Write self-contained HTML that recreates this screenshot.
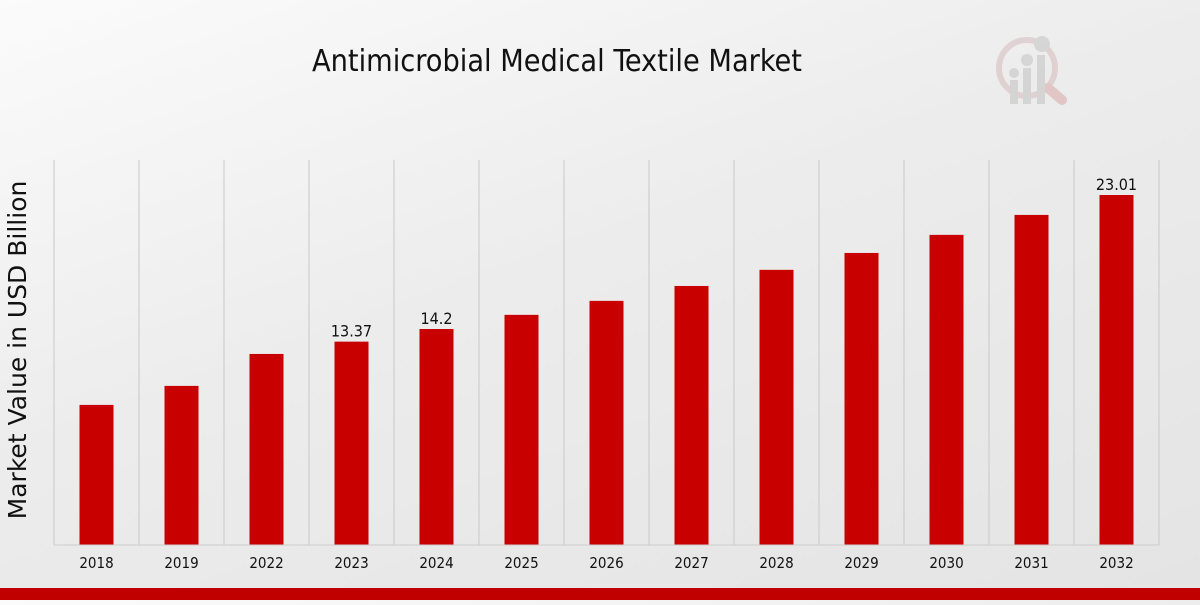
<!DOCTYPE html>
<html><head><meta charset="utf-8"><style>
html,body{margin:0;padding:0;}
body{width:1200px;height:600px;overflow:hidden;background:linear-gradient(160deg,#fbfbfb 0%,#ececec 45%,#e4e4e4 100%);font-family:"Liberation Sans",sans-serif;}
</style></head><body>
<svg id="chart" width="1200" height="600" xmlns="http://www.w3.org/2000/svg">
<text x="557" y="71" text-anchor="middle" font-size="30" textLength="490" lengthAdjust="spacingAndGlyphs" font-family="DejaVu Sans Condensed, DejaVu Sans, sans-serif" fill="#111">Antimicrobial Medical Textile Market</text>
<text transform="translate(26,350) rotate(-90)" text-anchor="middle" font-size="25" font-family="DejaVu Sans, sans-serif" fill="#111">Market Value in USD Billion</text>
<g opacity="0.35">
<circle cx="1027" cy="68" r="28" fill="none" stroke="#c9a0a0" stroke-width="6"/>
<line x1="1048" y1="88" x2="1062" y2="100" stroke="#d08080" stroke-width="10" stroke-linecap="round"/>
<rect x="1010" y="80" width="8" height="24" fill="#aaa"/><rect x="1023" y="68" width="8" height="36" fill="#aaa"/><rect x="1037" y="55" width="8" height="49" fill="#aaa"/>
<circle cx="1014" cy="73" r="5" fill="#aaa"/><circle cx="1027" cy="60" r="6" fill="#aaa"/><circle cx="1042" cy="44" r="8" fill="#aaa"/>
</g>
<g id="grid"></g><g id="bars"></g><g id="labels"></g>
<line x1="54" y1="545" x2="1159" y2="545" stroke="#ccc" stroke-width="1"/>
<rect x="0" y="588" width="1200" height="12" fill="#c00000"/>
</svg>
<script>
const categories=["2018","2019","2022","2023","2024","2025","2026","2027","2028","2029","2030","2031","2032"];
const values=[9.21,10.46,12.56,13.37,14.2,15.13,16.05,17.03,18.09,19.2,20.39,21.7,23.01];
const shownLabels=["","","","13.37","14.2","","","","","","","","23.01"];
const NS="http://www.w3.org/2000/svg";
const x0=54,x1=1159,base=545,pxPer=350/23.01;
const band=(x1-x0)/categories.length;
const xc=i=>x0+band*(i+0.5);
const y=v=>base-v*pxPer;
const FF="DejaVu Sans Condensed, DejaVu Sans, sans-serif";
const grid=document.getElementById('grid'),bars=document.getElementById('bars'),labels=document.getElementById('labels');
for(let i=0;i<=categories.length;i++){
 const l=document.createElementNS(NS,'line');
 
 
 const gx=x0+band*i;
 l.setAttribute('x1',gx);l.setAttribute('x2',gx);l.setAttribute('y1',160);l.setAttribute('y2',545);
 l.setAttribute('stroke','#c8c8c8');l.setAttribute('stroke-width','1');
 grid.appendChild(l);
}
categories.forEach((c,i)=>{
 const r=document.createElementNS(NS,'rect');
 
 
 r.setAttribute('x',xc(i)-17);r.setAttribute('width',34);
 r.setAttribute('y',y(values[i]));r.setAttribute('height',base-y(values[i]));
 r.setAttribute('fill','#c80000');
 bars.appendChild(r);
 const t=document.createElementNS(NS,'text');
 
 
 t.setAttribute('x',xc(i));t.setAttribute('y',568);t.setAttribute('text-anchor','middle');
 t.setAttribute('font-size','15');t.setAttribute('fill','#111');t.setAttribute('font-family',FF);
 t.textContent=c;labels.appendChild(t);
 if(shownLabels[i]){
  const v=document.createElementNS(NS,'text');
  
  
  v.setAttribute('x',xc(i));v.setAttribute('y',y(values[i])-5);v.setAttribute('text-anchor','middle');
  v.setAttribute('font-size','16');v.setAttribute('fill','#111');v.setAttribute('font-family',FF);
  v.textContent=shownLabels[i];labels.appendChild(v);
 }
});
</script>
</body></html>
